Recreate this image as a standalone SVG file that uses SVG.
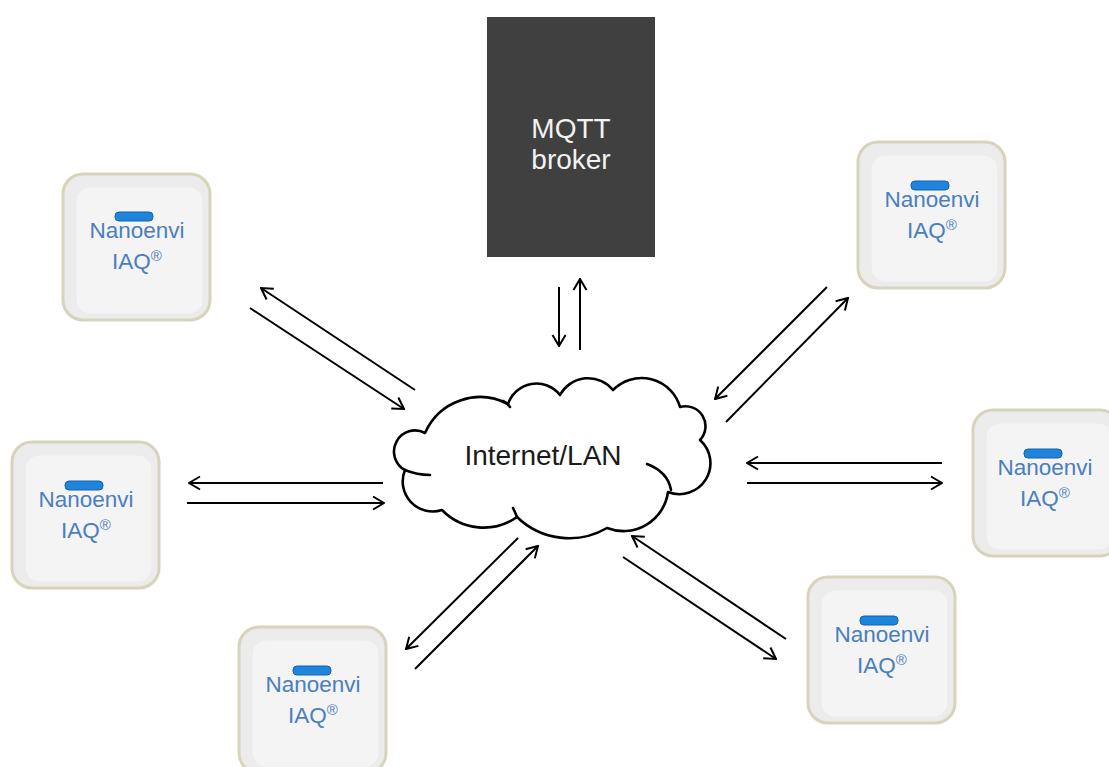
<svg xmlns="http://www.w3.org/2000/svg" width="1109" height="767" viewBox="0 0 1109 767">
<style>
.dev{fill:#ececec;stroke:#d8d3bb;stroke-width:3}
.inner{fill:#f4f4f4;stroke:#ebebeb;stroke-width:1.2}
.bar{fill:#1e84dc;stroke:#1463ad;stroke-width:1}
.lbl{font-family:"Liberation Sans",Arial,sans-serif;font-size:22.5px;fill:#4a7ebf;text-anchor:middle}
.sup{font-size:15px}
.conn{stroke:#000;stroke-width:2;fill:none;marker-end:url(#ah)}
.cloud{fill:#fff;stroke:#000;stroke-width:2.6;stroke-linejoin:round}
.cl{fill:none;stroke:#000;stroke-width:2.6;stroke-linecap:round}
</style>
<defs>
<marker id="ah" viewBox="0 0 14 16" refX="13" refY="8" markerWidth="14" markerHeight="16" markerUnits="userSpaceOnUse" orient="auto">
<path d="M2,1.5 L13,8 L2,14.5" fill="none" stroke="#000" stroke-width="2"/>
</marker>
</defs>
<rect width="1109" height="767" fill="#fff"/>

<g id="broker">
<rect x="487" y="17" width="168" height="240" fill="#404040"/>
<text x="571" y="138" font-family="Liberation Sans, Arial, sans-serif" font-size="28" fill="#f2f2f2" text-anchor="middle">MQTT</text>
<text x="571" y="169" font-family="Liberation Sans, Arial, sans-serif" font-size="28" fill="#f2f2f2" text-anchor="middle">broker</text>
</g>

<g id="cloud">
<path class="cloud" d="M425,433 A60,60 0 0 1 508,404 A30,30 0 0 1 560,395 A32,32 0 0 1 613,390 A40,40 0 0 1 680,407 A20,20 0 0 1 700,440 A31,31 0 0 1 668,492 A45,45 0 0 1 607,528 A75,75 0 0 1 517,517 A58,58 0 0 1 442,510 A30,30 0 0 1 405,470 A21,21 0 0 1 425,433 Z"/>
<path class="cl" d="M405,470 Q417,475 430,475"/>
<path class="cl" d="M647,464 Q668,472 671,490"/>
<path class="cl" d="M503,401 Q507,403 510,407"/>
<path class="cl" d="M517,517 Q515,512 513,508"/>
<text x="543" y="465" font-family="Liberation Sans, Arial, sans-serif" font-size="28" fill="#1a1a1a" text-anchor="middle">Internet/LAN</text>
</g>

<g id="node-tl" transform="translate(63,174)">
<rect class="dev" x="0" y="0" width="147" height="146" rx="20"/>
<rect class="inner" x="13" y="13" width="127" height="127" rx="14"/>
<rect class="bar" x="52" y="38" width="38" height="9" rx="4"/>
<text class="lbl" x="74" y="64">Nanoenvi</text>
<text class="lbl" x="74" y="95">IAQ<tspan class="sup" dy="-8">®</tspan></text>
</g>

<g id="node-tr" transform="translate(858,142)">
<rect class="dev" x="0" y="0" width="147" height="146" rx="20"/>
<rect class="inner" x="13" y="13" width="127" height="127" rx="14"/>
<rect class="bar" x="53" y="39" width="38" height="9" rx="4"/>
<text class="lbl" x="74" y="65">Nanoenvi</text>
<text class="lbl" x="74" y="96">IAQ<tspan class="sup" dy="-8">®</tspan></text>
</g>

<g id="node-l" transform="translate(12,442)">
<rect class="dev" x="0" y="0" width="147" height="146" rx="20"/>
<rect class="inner" x="13" y="13" width="127" height="127" rx="14"/>
<rect class="bar" x="53" y="39" width="38" height="9" rx="4"/>
<text class="lbl" x="74" y="65">Nanoenvi</text>
<text class="lbl" x="74" y="96">IAQ<tspan class="sup" dy="-8">®</tspan></text>
</g>

<g id="node-r" transform="translate(973,410)">
<rect class="dev" x="0" y="0" width="147" height="146" rx="20"/>
<rect class="inner" x="13" y="13" width="127" height="127" rx="14"/>
<rect class="bar" x="51" y="39" width="38" height="9" rx="4"/>
<text class="lbl" x="72" y="65">Nanoenvi</text>
<text class="lbl" x="72" y="96">IAQ<tspan class="sup" dy="-8">®</tspan></text>
</g>

<g id="node-bl" transform="translate(239,627)">
<rect class="dev" x="0" y="0" width="147" height="146" rx="20"/>
<rect class="inner" x="13" y="13" width="127" height="127" rx="14"/>
<rect class="bar" x="54" y="39" width="38" height="9" rx="4"/>
<text class="lbl" x="74" y="65">Nanoenvi</text>
<text class="lbl" x="74" y="96">IAQ<tspan class="sup" dy="-8">®</tspan></text>
</g>

<g id="node-br" transform="translate(808,577)">
<rect class="dev" x="0" y="0" width="147" height="146" rx="20"/>
<rect class="inner" x="13" y="13" width="127" height="127" rx="14"/>
<rect class="bar" x="52" y="39" width="38" height="9" rx="4"/>
<text class="lbl" x="74" y="65">Nanoenvi</text>
<text class="lbl" x="74" y="96">IAQ<tspan class="sup" dy="-8">®</tspan></text>
</g>

<g id="connectors">
<line class="conn" x1="559" y1="287" x2="559" y2="346"/>
<line class="conn" x1="580" y1="350" x2="580" y2="279"/>
<line class="conn" x1="415" y1="390" x2="261" y2="288"/>
<line class="conn" x1="250" y1="308" x2="404" y2="409"/>
<line class="conn" x1="827" y1="287" x2="715" y2="399"/>
<line class="conn" x1="726" y1="422" x2="848" y2="298"/>
<line class="conn" x1="383" y1="483" x2="189" y2="483"/>
<line class="conn" x1="187" y1="503" x2="384" y2="503"/>
<line class="conn" x1="942" y1="463" x2="747" y2="463"/>
<line class="conn" x1="747" y1="483" x2="942" y2="483"/>
<line class="conn" x1="518" y1="538" x2="406" y2="649"/>
<line class="conn" x1="415" y1="669" x2="538" y2="546"/>
<line class="conn" x1="786" y1="639" x2="632" y2="536"/>
<line class="conn" x1="623" y1="557" x2="776" y2="659"/>
</g>
</svg>
